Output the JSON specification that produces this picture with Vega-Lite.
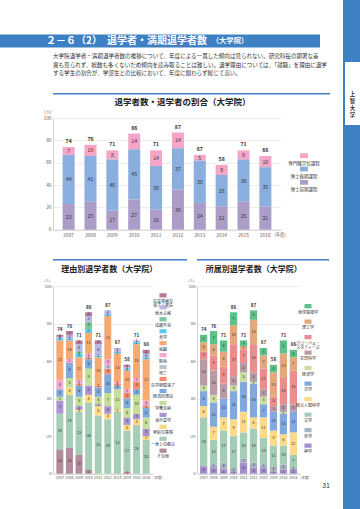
{
"$schema": "https://vega.github.io/schema/vega-lite/v6.json",
"padding": 0,
"background": "white",
"spacing": 0,
"resolve": {"scale": {"color": "independent"}},
"config": {
  "font": "Noto Sans CJK JP",
  "view": {"stroke": null},
  "concat": {"spacing": 0},
  "axis": {"labelColor": "#555", "domainColor": "#c9c9c9", "gridColor": "#e3e3e3", "ticks": false, "titleFontWeight": "normal", "titleColor": "#555", "labelFont": "Noto Sans CJK JP", "titleFont": "Noto Sans CJK JP", "domainWidth": 0.8, "gridWidth": 0.6},
  "axisX": {"grid": false},
  "axisY": {"grid": true, "labelOverlap": false, "tickCount": 10},
  "title": {"font": "Noto Sans CJK JP", "color": "#222"}
},
"datasets": {
  "top": [
    {"yr":"2007","c":"博士前期課程","v":23},{"yr":"2007","c":"博士後期課程","v":44},{"yr":"2007","c":"専門職学位課程","v":7},
    {"yr":"2008","c":"博士前期課程","v":25},{"yr":"2008","c":"博士後期課程","v":41},{"yr":"2008","c":"専門職学位課程","v":10},
    {"yr":"2009","c":"博士前期課程","v":17},{"yr":"2009","c":"博士後期課程","v":46},{"yr":"2009","c":"専門職学位課程","v":8},
    {"yr":"2010","c":"博士前期課程","v":27},{"yr":"2010","c":"博士後期課程","v":45},{"yr":"2010","c":"専門職学位課程","v":14},
    {"yr":"2011","c":"博士前期課程","v":18},{"yr":"2011","c":"博士後期課程","v":39},{"yr":"2011","c":"専門職学位課程","v":14},
    {"yr":"2012","c":"博士前期課程","v":36},{"yr":"2012","c":"博士後期課程","v":37},{"yr":"2012","c":"専門職学位課程","v":14},
    {"yr":"2013","c":"博士前期課程","v":24},{"yr":"2013","c":"博士後期課程","v":38},{"yr":"2013","c":"専門職学位課程","v":5},
    {"yr":"2014","c":"博士前期課程","v":21},{"yr":"2014","c":"博士後期課程","v":28},{"yr":"2014","c":"専門職学位課程","v":9},
    {"yr":"2015","c":"博士前期課程","v":25},{"yr":"2015","c":"博士後期課程","v":38},{"yr":"2015","c":"専門職学位課程","v":8},
    {"yr":"2016","c":"博士前期課程","v":21},{"yr":"2016","c":"博士後期課程","v":35},{"yr":"2016","c":"専門職学位課程","v":10}
  ],
  "rs": [
    {"yr":"2007","c":"その他","v":13},{"yr":"2007","c":"一身上の都合","v":19},{"yr":"2007","c":"海外留学","v":7},{"yr":"2007","c":"学費未納","v":2},{"yr":"2007","c":"経済的理由","v":4},{"yr":"2007","c":"疾病","v":5},{"yr":"2007","c":"就職","v":21},{"yr":"2007","c":"進学","v":1},{"yr":"2007","c":"他大合格","v":1},{"yr":"2007","c":"在留資格の\n満了・喪失","v":1},
    {"yr":"2008","c":"その他","v":14},{"yr":"2008","c":"一身上の都合","v":28},{"yr":"2008","c":"家庭の事情","v":4},{"yr":"2008","c":"学費未納","v":5},{"yr":"2008","c":"経済的理由","v":8},{"yr":"2008","c":"疾病","v":2},{"yr":"2008","c":"就職","v":10},{"yr":"2008","c":"進学","v":1},{"yr":"2008","c":"他大合格","v":2},{"yr":"2008","c":"在留資格の\n満了・喪失","v":2},
    {"yr":"2009","c":"その他","v":10},{"yr":"2009","c":"一身上の都合","v":23},{"yr":"2009","c":"家庭の事情","v":1},{"yr":"2009","c":"海外留学","v":2},{"yr":"2009","c":"学費未納","v":5},{"yr":"2009","c":"経済的理由","v":6},{"yr":"2009","c":"在学期間満了","v":1},{"yr":"2009","c":"疾病","v":2},{"yr":"2009","c":"就職","v":12},{"yr":"2009","c":"進学","v":2},{"yr":"2009","c":"成績不良","v":1},{"yr":"2009","c":"他大合格","v":4},{"yr":"2009","c":"在留資格の\n満了・喪失","v":2},
    {"yr":"2010","c":"その他","v":2},{"yr":"2010","c":"一身上の都合","v":36},{"yr":"2010","c":"家庭の事情","v":4},{"yr":"2010","c":"海外留学","v":5},{"yr":"2010","c":"学費未納","v":9},{"yr":"2010","c":"経済的理由","v":5},{"yr":"2010","c":"在学期間満了","v":1},{"yr":"2010","c":"疾病","v":2},{"yr":"2010","c":"就職","v":11},{"yr":"2010","c":"進学","v":2},{"yr":"2010","c":"成績不良","v":4},{"yr":"2010","c":"他大合格","v":3},{"yr":"2010","c":"在留資格の\n満了・喪失","v":2},
    {"yr":"2011","c":"一身上の都合","v":31},{"yr":"2011","c":"家庭の事情","v":5},{"yr":"2011","c":"海外留学","v":1},{"yr":"2011","c":"学費未納","v":4},{"yr":"2011","c":"経済的理由","v":5},{"yr":"2011","c":"在学期間満了","v":1},{"yr":"2011","c":"就職","v":15},{"yr":"2011","c":"進学","v":1},{"yr":"2011","c":"他大合格","v":6},{"yr":"2011","c":"在留資格の\n満了・喪失","v":2},
    {"yr":"2012","c":"一身上の都合","v":29},{"yr":"2012","c":"家庭の事情","v":3},{"yr":"2012","c":"海外留学","v":4},{"yr":"2012","c":"学費未納","v":7},{"yr":"2012","c":"経済的理由","v":10},{"yr":"2012","c":"在学期間満了","v":3},{"yr":"2012","c":"死亡","v":2},{"yr":"2012","c":"疾病","v":3},{"yr":"2012","c":"就職","v":23},{"yr":"2012","c":"進学","v":1},{"yr":"2012","c":"他大合格","v":2},
    {"yr":"2013","c":"一身上の都合","v":33},{"yr":"2013","c":"家庭の事情","v":1},{"yr":"2013","c":"学費未納","v":11},{"yr":"2013","c":"経済的理由","v":2},{"yr":"2013","c":"在学期間満了","v":1},{"yr":"2013","c":"疾病","v":1},{"yr":"2013","c":"就職","v":15},{"yr":"2013","c":"進学","v":1},{"yr":"2013","c":"他大合格","v":2},
    {"yr":"2014","c":"その他","v":1},{"yr":"2014","c":"一身上の都合","v":22},{"yr":"2014","c":"家庭の事情","v":3},{"yr":"2014","c":"海外留学","v":4},{"yr":"2014","c":"学費未納","v":5},{"yr":"2014","c":"経済的理由","v":5},{"yr":"2014","c":"在学期間満了","v":3},{"yr":"2014","c":"疾病","v":2},{"yr":"2014","c":"就職","v":10},{"yr":"2014","c":"進学","v":1},{"yr":"2014","c":"他大合格","v":1},{"yr":"2014","c":"在留資格の\n満了・喪失","v":1},
    {"yr":"2015","c":"一身上の都合","v":26},{"yr":"2015","c":"家庭の事情","v":3},{"yr":"2015","c":"海外留学","v":3},{"yr":"2015","c":"学費未納","v":10},{"yr":"2015","c":"経済的理由","v":3},{"yr":"2015","c":"在学期間満了","v":4},{"yr":"2015","c":"疾病","v":2},{"yr":"2015","c":"就職","v":18},{"yr":"2015","c":"進学","v":1},{"yr":"2015","c":"他大合格","v":1},
    {"yr":"2016","c":"一身上の都合","v":18},{"yr":"2016","c":"家庭の事情","v":2},{"yr":"2016","c":"海外留学","v":4},{"yr":"2016","c":"学費未納","v":6},{"yr":"2016","c":"経済的理由","v":5},{"yr":"2016","c":"在学期間満了","v":1},{"yr":"2016","c":"疾病","v":3},{"yr":"2016","c":"就職","v":22},{"yr":"2016","c":"進学","v":1},{"yr":"2016","c":"他大合格","v":2},{"yr":"2016","c":"在留資格の\n満了・喪失","v":2}
  ],
  "fc": [
    {"yr":"2007","c":"神学","v":4},{"yr":"2007","c":"文学","v":26},{"yr":"2007","c":"総合人間科学","v":6},{"yr":"2007","c":"法学","v":8},{"yr":"2007","c":"経済学","v":3},{"yr":"2007","c":"言語科学","v":14},{"yr":"2007","c":"グローバル・\nスタディーズ","v":4},{"yr":"2007","c":"理工学","v":5},{"yr":"2007","c":"地球環境学","v":4},
    {"yr":"2008","c":"神学","v":3},{"yr":"2008","c":"哲学","v":2},{"yr":"2008","c":"文学","v":13},{"yr":"2008","c":"総合人間科学","v":7},{"yr":"2008","c":"法学","v":13},{"yr":"2008","c":"経済学","v":4},{"yr":"2008","c":"言語科学","v":13},{"yr":"2008","c":"グローバル・\nスタディーズ","v":8},{"yr":"2008","c":"理工学","v":6},{"yr":"2008","c":"地球環境学","v":7},
    {"yr":"2009","c":"神学","v":2},{"yr":"2009","c":"哲学","v":4},{"yr":"2009","c":"文学","v":17},{"yr":"2009","c":"総合人間科学","v":7},{"yr":"2009","c":"法学","v":10},{"yr":"2009","c":"言語科学","v":8},{"yr":"2009","c":"グローバル・\nスタディーズ","v":9},{"yr":"2009","c":"理工学","v":8},{"yr":"2009","c":"地球環境学","v":6},
    {"yr":"2010","c":"神学","v":1},{"yr":"2010","c":"哲学","v":2},{"yr":"2010","c":"文学","v":17},{"yr":"2010","c":"総合人間科学","v":9},{"yr":"2010","c":"法学","v":15},{"yr":"2010","c":"経済学","v":3},{"yr":"2010","c":"言語科学","v":5},{"yr":"2010","c":"グローバル・\nスタディーズ","v":17},{"yr":"2010","c":"理工学","v":10},{"yr":"2010","c":"地球環境学","v":7},
    {"yr":"2011","c":"神学","v":6},{"yr":"2011","c":"哲学","v":2},{"yr":"2011","c":"文学","v":14},{"yr":"2011","c":"総合人間科学","v":11},{"yr":"2011","c":"法学","v":16},{"yr":"2011","c":"経済学","v":5},{"yr":"2011","c":"言語科学","v":5},{"yr":"2011","c":"グローバル・\nスタディーズ","v":7},{"yr":"2011","c":"理工学","v":2},{"yr":"2011","c":"地球環境学","v":3},
    {"yr":"2012","c":"神学","v":3},{"yr":"2012","c":"哲学","v":3},{"yr":"2012","c":"文学","v":18},{"yr":"2012","c":"総合人間科学","v":6},{"yr":"2012","c":"法学","v":18},{"yr":"2012","c":"経済学","v":1},{"yr":"2012","c":"言語科学","v":5},{"yr":"2012","c":"グローバル・\nスタディーズ","v":15},{"yr":"2012","c":"理工学","v":13},{"yr":"2012","c":"地球環境学","v":5},
    {"yr":"2013","c":"神学","v":3},{"yr":"2013","c":"哲学","v":2},{"yr":"2013","c":"文学","v":14},{"yr":"2013","c":"総合人間科学","v":11},{"yr":"2013","c":"法学","v":7},{"yr":"2013","c":"経済学","v":4},{"yr":"2013","c":"言語科学","v":4},{"yr":"2013","c":"グローバル・\nスタディーズ","v":11},{"yr":"2013","c":"理工学","v":7},{"yr":"2013","c":"地球環境学","v":4},
    {"yr":"2014","c":"神学","v":1},{"yr":"2014","c":"哲学","v":3},{"yr":"2014","c":"文学","v":11},{"yr":"2014","c":"総合人間科学","v":8},{"yr":"2014","c":"法学","v":10},{"yr":"2014","c":"言語科学","v":3},{"yr":"2014","c":"グローバル・\nスタディーズ","v":5},{"yr":"2014","c":"理工学","v":13},{"yr":"2014","c":"地球環境学","v":4},
    {"yr":"2015","c":"神学","v":2},{"yr":"2015","c":"哲学","v":3},{"yr":"2015","c":"文学","v":10},{"yr":"2015","c":"総合人間科学","v":6},{"yr":"2015","c":"法学","v":11},{"yr":"2015","c":"経済学","v":1},{"yr":"2015","c":"言語科学","v":4},{"yr":"2015","c":"グローバル・\nスタディーズ","v":14},{"yr":"2015","c":"理工学","v":13},{"yr":"2015","c":"地球環境学","v":7},
    {"yr":"2016","c":"神学","v":2},{"yr":"2016","c":"哲学","v":1},{"yr":"2016","c":"文学","v":7},{"yr":"2016","c":"総合人間科学","v":12},{"yr":"2016","c":"法学","v":11},{"yr":"2016","c":"言語科学","v":4},{"yr":"2016","c":"グローバル・\nスタディーズ","v":18},{"yr":"2016","c":"理工学","v":7},{"yr":"2016","c":"地球環境学","v":4}
  ]
},
"hconcat": [
  {
    "align": "none", "spacing": 6.5, "resolve": {"scale": {"color": "independent"}},
    "vconcat": [
      {"width": 343, "height": 27.5, "data": {"values": [{}]}, "mark": {"type": "point", "opacity": 0, "size": 0}},
      {
        "spacing": 0,
        "hconcat": [
          {"width": 43, "height": 13, "view": {"fill": "#3d80c3", "stroke": null}, "data": {"values": [{}]}, "mark": {"type": "point", "opacity": 0, "size": 0}},
          {"width": 167, "height": 13, "view": {"fill": "#3d80c3", "stroke": null}, "data": {"values": [{"t": "２－６（2）　退学者・満期退学者数"}]},
           "mark": {"type": "text", "color": "white", "fontSize": 10, "fontWeight": "bold"}, "encoding": {"text": {"field": "t"}}},
          {"width": 40, "height": 13, "view": {"fill": "#3d80c3", "stroke": null}, "data": {"values": [{"t": "（大学院）"}]},
           "mark": {"type": "text", "color": "white", "fontSize": 7.3, "fontWeight": "bold"}, "encoding": {"text": {"field": "t"}}},
          {"width": 70, "height": 13, "view": {"fill": "#3d80c3", "stroke": null}, "data": {"values": [{}]}, "mark": {"type": "point", "opacity": 0, "size": 0}}
        ]
      },
      {
        "spacing": 0, "resolve": {"scale": {"color": "independent"}},
        "hconcat": [
          {"width": 43, "height": 1, "data": {"values": [{}]}, "mark": {"type": "point", "opacity": 0, "size": 0}},
          {
            "align": "none", "spacing": 2, "resolve": {"scale": {"color": "independent"}},
            "vconcat": [
              {"width": 277, "height": 1.5, "view": {"fill": "#3d80c3", "stroke": null}, "data": {"values": [{}]}, "mark": {"type": "point", "opacity": 0, "size": 0},
               "title": {"text": ["　大学院退学者・満期退学者数の推移について、年度による一貫した傾向は見られない。研究科毎の顕著な差", "異も見られず、総数も多くないため傾向を読み取ることは難しい。退学理由については、「就職」を理由に退学", "する学生の割合が、学部生との比較において、年度に関わらず総じて高い。"], "frame": "group", "anchor": "start", "orient": "top", "offset": 16, "fontSize": 5.55, "lineHeight": 8.5, "fontWeight": "normal", "color": "#333"}},
              {
                "title": {"text": "退学者数・退学者の割合（大学院）", "fontSize": 8.5, "fontWeight": "bold", "anchor": "middle", "offset": 3, "color": "#222"},
                "bounds": "flush", "spacing": 5,
                "hconcat": [
                  {
                    "width": 228, "height": 111.7,
                    "data": {"name": "top"},
                    "transform": [{"window": [{"op": "row_number", "as": "o"}], "groupby": ["yr"]}],
                    "encoding": {"x": {"field": "yr", "type": "ordinal", "scale": {"paddingInner": 0.45, "paddingOuter": 0.44},
                      "axis": {"title": "(年度)", "labelAngle": 0, "labelFontSize": 4.8, "labelPadding": 2.5, "titleX": 221, "titleY": 2.5, "titleAlign": "left", "titleBaseline": "top", "titleFontSize": 4.2}}},
                    "layer": [
                      {"mark": {"type": "bar"},
                       "encoding": {
                         "y": {"field": "v", "type": "quantitative", "stack": "zero", "scale": {"domain": [0, 100]},
                           "axis": {"title": "(人)", "values": [0,10,20,30,40,50,60,70,80,90,100], "labelOverlap": false, "labelFontSize": 4.8, "labelPadding": 2, "titleAngle": 0, "titleX": -2, "titleY": -5, "titleAlign": "right", "titleBaseline": "bottom", "titleFontSize": 4.3}},
                         "color": {"field": "c", "type": "nominal", "legend": null, "scale": {"domain": ["専門職学位課程", "博士後期課程", "博士前期課程"], "range": ["#f4a5c8", "#8aaedd", "#ab9dc8"]}},
                         "order": {"field": "o", "type": "quantitative"}}},
                      {"mark": {"type": "text", "fontSize": 5.2, "color": "#333"},
                       "encoding": {
                         "y": {"field": "v", "type": "quantitative", "stack": "zero", "bandPosition": 0.5,
                           "axis": {"title": "(人)", "values": [0,10,20,30,40,50,60,70,80,90,100], "labelOverlap": false, "labelFontSize": 4.8, "labelPadding": 2, "titleAngle": 0, "titleX": -2, "titleY": -5, "titleAlign": "right", "titleBaseline": "bottom", "titleFontSize": 4.3}},
                         "detail": {"field": "c"},
                         "order": {"field": "o", "type": "quantitative"},
                         "text": {"field": "v", "type": "quantitative"}}},
                      {"mark": {"type": "text", "fontSize": 5.2, "color": "#333", "fontWeight": "bold", "dy": -3, "baseline": "bottom"},
                       "encoding": {
                         "y": {"aggregate": "sum", "field": "v", "type": "quantitative",
                           "axis": {"title": "(人)", "values": [0,10,20,30,40,50,60,70,80,90,100], "labelOverlap": false, "labelFontSize": 4.8, "labelPadding": 2, "titleAngle": 0, "titleX": -2, "titleY": -5, "titleAlign": "right", "titleBaseline": "bottom", "titleFontSize": 4.3}},
                         "text": {"aggregate": "sum", "field": "v", "type": "quantitative"}}}
                    ]
                  },
                  {
                    "width": 36, "height": 111.7,
                    "data": {"name": "top"},
                    "transform": [{"aggregate": [{"op": "count", "as": "n"}], "groupby": ["c"]}],
                    "encoding": {"y": {"field": "c", "type": "nominal", "axis": null, "scale": {"type": "point", "domain": ["専門職学位課程", "博士後期課程", "博士前期課程"], "range": [31, 71]}}},
                    "layer": [
                      {"mark": {"type": "point", "filled": true, "opacity": 1, "shape": "M-1,-0.6H1V0.6H-1Z", "size": 64},
                       "encoding": {"color": {"field": "c", "type": "nominal", "legend": null, "scale": {"domain": ["専門職学位課程", "博士後期課程", "博士前期課程"], "range": ["#f4a5c8", "#8aaedd", "#ab9dc8"]}}}},
                      {"mark": {"type": "text", "fontSize": 4.5, "color": "#333", "baseline": "top", "dy": 5},
                       "encoding": {"text": {"field": "c"}}}
                    ]
                  }
                ]
              },
              {"width": 277, "height": 18, "data": {"values": [{}]}, "mark": {"type": "point", "opacity": 0, "size": 0}},
              {
                "spacing": 0, "resolve": {"scale": {"color": "independent"}},
                "hconcat": [
                  {
                    "align": "none", "spacing": 4,
                    "vconcat": [
                      {"width": 134, "height": 1.5, "view": {"fill": "#3d80c3", "stroke": null}, "data": {"values": [{}]}, "mark": {"type": "point", "opacity": 0, "size": 0}},
                      {
                        "title": {"text": "理由別退学者数（大学院）", "fontSize": 8, "fontWeight": "bold", "anchor": "middle", "offset": 4.5, "color": "#222"},
                        "bounds": "flush", "spacing": 0,
                        "hconcat": [
                          {
                            "width": 100, "height": 187.7,
                            "data": {"name": "rs"},
                            "transform": [{"window": [{"op": "row_number", "as": "o"}], "groupby": ["yr"]}],
                            "encoding": {"x": {"field": "yr", "type": "ordinal", "scale": {"paddingInner": 0.27, "paddingOuter": 0.35},
                              "axis": {"title": "(年度)", "labelAngle": 0, "labelFontSize": 3.7, "labelPadding": 2, "titleX": 100, "titleY": 2, "titleAlign": "left", "titleBaseline": "top", "titleFontSize": 3.4}}},
                            "layer": [
                              {"mark": {"type": "bar"},
                               "encoding": {
                                 "y": {"field": "v", "type": "quantitative", "stack": "zero", "scale": {"domain": [0, 100]},
                                   "axis": {"title": "(人)", "values": [0,10,20,30,40,50,60,70,80,90,100], "labelOverlap": false, "labelFontSize": 4.2, "labelPadding": 2, "titleAngle": 0, "titleX": -3, "titleY": -4, "titleAlign": "right", "titleBaseline": "bottom", "titleFontSize": 3.8}},
                                 "color": {"field": "c", "type": "nominal", "legend": null, "scale": {
                                   "domain": ["在留資格の\n満了・喪失", "他大合格", "成績不良", "進学", "就職", "疾病", "死亡", "在学期間満了", "経済的理由", "学費未納", "海外留学", "家庭の事情", "一身上の都合", "その他"],
                                   "range": ["#b4789a", "#b9b8e3", "#7dc898", "#5ccaf0", "#f6aa72", "#f4a9d0", "#bcc4cc", "#f28c6c", "#80a9dc", "#c6df98", "#a996d0", "#fdd982", "#a6cdb6", "#b28c9c"]}},
                                 "order": {"field": "o", "type": "quantitative"}}},
                              {"mark": {"type": "text", "fontSize": 3.8, "color": "#333"},
                               "encoding": {
                                 "y": {"field": "v", "type": "quantitative", "stack": "zero", "bandPosition": 0.5,
                                   "axis": {"title": "(人)", "values": [0,10,20,30,40,50,60,70,80,90,100], "labelOverlap": false, "labelFontSize": 4.2, "labelPadding": 2, "titleAngle": 0, "titleX": -3, "titleY": -4, "titleAlign": "right", "titleBaseline": "bottom", "titleFontSize": 3.8}},
                                 "detail": {"field": "c"},
                                 "order": {"field": "o", "type": "quantitative"},
                                 "text": {"field": "v", "type": "quantitative"}}},
                              {"mark": {"type": "text", "fontSize": 4.6, "color": "#333", "fontWeight": "bold", "dy": -2.5, "baseline": "bottom"},
                               "encoding": {
                                 "y": {"aggregate": "sum", "field": "v", "type": "quantitative",
                                   "axis": {"title": "(人)", "values": [0,10,20,30,40,50,60,70,80,90,100], "labelOverlap": false, "labelFontSize": 4.2, "labelPadding": 2, "titleAngle": 0, "titleX": -3, "titleY": -4, "titleAlign": "right", "titleBaseline": "bottom", "titleFontSize": 3.8}},
                                 "text": {"aggregate": "sum", "field": "v", "type": "quantitative"}}}
                            ]
                          },
                          {
                            "width": 20, "height": 187.7,
                            "data": {"name": "rs"},
                            "transform": [{"aggregate": [{"op": "count", "as": "n"}], "groupby": ["c"]}],
                            "encoding": {"y": {"field": "c", "type": "nominal", "axis": null, "scale": {"type": "point",
                              "domain": ["在留資格の\n満了・喪失", "他大合格", "成績不良", "進学", "就職", "疾病", "死亡", "在学期間満了", "経済的理由", "学費未納", "海外留学", "家庭の事情", "一身上の都合", "その他"], "range": [3.4, 170.7]}}},
                            "layer": [
                              {"mark": {"type": "point", "filled": true, "opacity": 1, "shape": "M-1,-0.6H1V0.6H-1Z", "size": 50},
                               "encoding": {"color": {"field": "c", "type": "nominal", "legend": null, "scale": {
                                 "domain": ["在留資格の\n満了・喪失", "他大合格", "成績不良", "進学", "就職", "疾病", "死亡", "在学期間満了", "経済的理由", "学費未納", "海外留学", "家庭の事情", "一身上の都合", "その他"],
                                 "range": ["#b4789a", "#b9b8e3", "#7dc898", "#5ccaf0", "#f6aa72", "#f4a9d0", "#bcc4cc", "#f28c6c", "#80a9dc", "#c6df98", "#a996d0", "#fdd982", "#a6cdb6", "#b28c9c"]}}}},
                              {"mark": {"type": "text", "fontSize": 4, "lineHeight": 4.6, "lineBreak": "\n", "color": "#333", "baseline": "top", "dy": 4.5},
                               "encoding": {"text": {"field": "c"}}}
                            ]
                          }
                        ]
                      }
                    ]
                  },
                  {
                    "align": "none", "spacing": 4,
                    "vconcat": [
                      {"width": 132, "height": 1.5, "view": {"fill": "#3d80c3", "stroke": null}, "data": {"values": [{}]}, "mark": {"type": "point", "opacity": 0, "size": 0}},
                      {
                        "title": {"text": "所属別退学者数（大学院）", "fontSize": 8, "fontWeight": "bold", "anchor": "middle", "offset": 4.5, "color": "#222"},
                        "bounds": "flush", "spacing": 0,
                        "hconcat": [
                          {
                            "width": 103, "height": 187.7,
                            "data": {"name": "fc"},
                            "transform": [{"window": [{"op": "row_number", "as": "o"}], "groupby": ["yr"]}],
                            "encoding": {"x": {"field": "yr", "type": "ordinal", "scale": {"paddingInner": 0.27, "paddingOuter": 0.3},
                              "axis": {"title": "(年度)", "labelAngle": 0, "labelFontSize": 3.7, "labelPadding": 2, "titleX": 103, "titleY": 2, "titleAlign": "left", "titleBaseline": "top", "titleFontSize": 3.4}}},
                            "layer": [
                              {"mark": {"type": "bar"},
                               "encoding": {
                                 "y": {"field": "v", "type": "quantitative", "stack": "zero", "scale": {"domain": [0, 100]},
                                   "axis": {"title": "(人)", "values": [0,10,20,30,40,50,60,70,80,90,100], "labelOverlap": false, "labelFontSize": 4.2, "labelPadding": 2, "titleAngle": 0, "titleX": -3, "titleY": -4, "titleAlign": "right", "titleBaseline": "bottom", "titleFontSize": 3.8}},
                                 "color": {"field": "c", "type": "nominal", "legend": null, "scale": {
                                   "domain": ["地球環境学", "理工学", "グローバル・\nスタディーズ", "言語科学", "経済学", "法学", "総合人間科学", "文学", "哲学", "神学"],
                                   "range": ["#5fc089", "#e3a97c", "#ec8d8d", "#b99ba8", "#c9de9f", "#82a9dd", "#fdda8b", "#a4cdb5", "#a8b3c2", "#a58ecd"]}},
                                 "order": {"field": "o", "type": "quantitative"}}},
                              {"mark": {"type": "text", "fontSize": 3.8, "color": "#333"},
                               "encoding": {
                                 "y": {"field": "v", "type": "quantitative", "stack": "zero", "bandPosition": 0.5,
                                   "axis": {"title": "(人)", "values": [0,10,20,30,40,50,60,70,80,90,100], "labelOverlap": false, "labelFontSize": 4.2, "labelPadding": 2, "titleAngle": 0, "titleX": -3, "titleY": -4, "titleAlign": "right", "titleBaseline": "bottom", "titleFontSize": 3.8}},
                                 "detail": {"field": "c"},
                                 "order": {"field": "o", "type": "quantitative"},
                                 "text": {"field": "v", "type": "quantitative"}}},
                              {"mark": {"type": "text", "fontSize": 4.6, "color": "#333", "fontWeight": "bold", "dy": -2.5, "baseline": "bottom"},
                               "encoding": {
                                 "y": {"aggregate": "sum", "field": "v", "type": "quantitative",
                                   "axis": {"title": "(人)", "values": [0,10,20,30,40,50,60,70,80,90,100], "labelOverlap": false, "labelFontSize": 4.2, "labelPadding": 2, "titleAngle": 0, "titleX": -3, "titleY": -4, "titleAlign": "right", "titleBaseline": "bottom", "titleFontSize": 3.8}},
                                 "text": {"aggregate": "sum", "field": "v", "type": "quantitative"}}}
                            ]
                          },
                          {
                            "width": 16, "height": 187.7,
                            "data": {"name": "fc"},
                            "transform": [{"aggregate": [{"op": "count", "as": "n"}], "groupby": ["c"]}],
                            "encoding": {"y": {"field": "c", "type": "nominal", "axis": null, "scale": {"type": "point",
                              "domain": ["地球環境学", "理工学", "グローバル・\nスタディーズ", "言語科学", "経済学", "法学", "総合人間科学", "文学", "哲学", "神学"], "range": [12.4, 167.4]}}},
                            "layer": [
                              {"mark": {"type": "point", "filled": true, "opacity": 1, "shape": "M-1,-0.6H1V0.6H-1Z", "size": 50},
                               "encoding": {"color": {"field": "c", "type": "nominal", "legend": null, "scale": {
                                 "domain": ["地球環境学", "理工学", "グローバル・\nスタディーズ", "言語科学", "経済学", "法学", "総合人間科学", "文学", "哲学", "神学"],
                                 "range": ["#5fc089", "#e3a97c", "#ec8d8d", "#b99ba8", "#c9de9f", "#82a9dd", "#fdda8b", "#a4cdb5", "#a8b3c2", "#a58ecd"]}}}},
                              {"mark": {"type": "text", "fontSize": 4, "lineHeight": 4.6, "lineBreak": "\n", "color": "#333", "baseline": "top", "dy": 4.5},
                               "encoding": {"text": {"field": "c"}}}
                            ]
                          }
                        ]
                      }
                    ]
                  }
                ]
              },
              {"width": 277, "height": 1, "data": {"values": [{}]}, "mark": {"type": "point", "opacity": 0, "size": 0},
               "title": {"text": "31", "frame": "group", "anchor": "end", "orient": "top", "offset": 0, "fontSize": 7, "fontWeight": "normal", "color": "#333"}}
            ]
          }
        ]
      }
    ]
  },
  {
    "spacing": 0,
    "vconcat": [
      {"width": 17, "height": 62, "view": {"fill": "#3d80c3", "stroke": null}, "data": {"values": [{}]}, "mark": {"type": "point", "opacity": 0, "size": 0}},
      {
        "spacing": 0,
        "hconcat": [
          {"width": 2, "height": 63, "view": {"fill": "#3d80c3", "stroke": null}, "data": {"values": [{}]}, "mark": {"type": "point", "opacity": 0, "size": 0}},
          {"width": 15, "height": 63, "view": {"fill": "white", "stroke": null}, "data": {"values": [{"t": "上\n智\n大\n学"}]},
           "mark": {"type": "text", "lineBreak": "\n", "fontSize": 5.5, "lineHeight": 7, "fontWeight": "bold", "color": "#333"}, "encoding": {"text": {"field": "t"}}}
        ]
      },
      {"width": 17, "height": 384, "view": {"fill": "#3d80c3", "stroke": null}, "data": {"values": [{}]}, "mark": {"type": "point", "opacity": 0, "size": 0}}
    ]
  }
]
}
